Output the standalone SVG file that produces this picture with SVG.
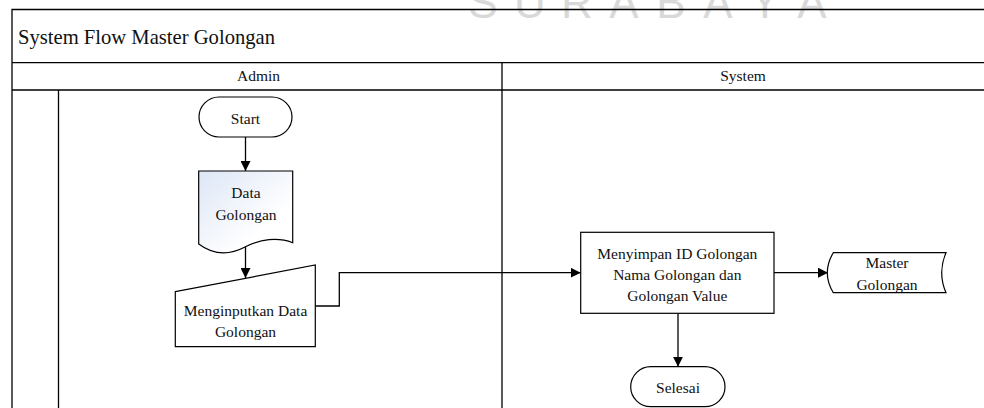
<svg xmlns="http://www.w3.org/2000/svg" width="984" height="408" viewBox="0 0 984 408">
  <style>
    .frame { fill: none; stroke: #000; stroke-width: 1.3; }
    .shape { fill: #fff; stroke: #000; stroke-width: 1.2; }
    .edge { fill: none; stroke: #000; stroke-width: 1.3; }
    .label { font-family: "Liberation Serif", "Times New Roman", serif; font-size: 15.5px; fill: #111; text-anchor: middle; }
    .title { font-family: "Liberation Serif", "Times New Roman", serif; font-size: 21px; fill: #111; }
    .mark { font-family: "Liberation Sans", Arial, sans-serif; font-size: 44px; fill: #d9d9d9; text-anchor: middle; font-weight: 300; }
  </style>
  <defs>
    <marker id="arrow" viewBox="0 0 10 10" refX="10" refY="5" markerWidth="10" markerHeight="10" markerUnits="userSpaceOnUse" orient="auto">
      <path d="M0,0 L10,5 L0,10 Z" fill="#000"/>
    </marker>
    <linearGradient id="docFill" x1="0" y1="0" x2="1" y2="1">
      <stop offset="0" stop-color="#dde6f6"/>
      <stop offset="0.7" stop-color="#ffffff"/>
    </linearGradient>
  </defs>

  <rect width="984" height="408" fill="#fff"/>

  <!-- background watermark -->
  <text class="mark" y="18"><tspan x="483">S</tspan><tspan x="530">U</tspan><tspan x="577">R</tspan><tspan x="624">A</tspan><tspan x="671">B</tspan><tspan x="718">A</tspan><tspan x="765">Y</tspan><tspan x="812">A</tspan></text>

  <!-- swimlane frame -->
  <g id="lanes">
    <path class="frame" d="M12,408 V9.5 H990 M12,62.7 H990 M12,90 H990 M502,62.7 V408 M58.5,90 V408"/>
    <text class="title" x="18" y="44" textLength="257" lengthAdjust="spacingAndGlyphs">System Flow Master Golongan</text>
    <text class="label" x="258.5" y="81">Admin</text>
    <text class="label" x="743" y="81">System</text>
  </g>

  <!-- connectors -->
  <g id="connectors">
    <path class="edge" d="M245.5,137 V171" marker-end="url(#arrow)"/>
    <path class="edge" d="M245.5,247 V278" marker-end="url(#arrow)"/>
    <path class="edge" d="M315.3,306 H339.3 V272.7 H580.7" marker-end="url(#arrow)"/>
    <path class="edge" d="M774,272.7 H828" marker-end="url(#arrow)"/>
    <path class="edge" d="M678,313.3 V366.7" marker-end="url(#arrow)"/>
  </g>

  <g id="start">
    <rect class="shape" x="199" y="97" width="93" height="40" rx="20" ry="20"/>
    <text class="label" x="245.5" y="123.5">Start</text>
  </g>

  <g id="data-golongan">
    <path class="shape" style="fill:url(#docFill)" d="M198.7,171 H292.7 V242.7 C278,237 260,239 245,247 C228,256 212,254 198.7,244 Z"/>
    <text class="label" x="246" y="198">Data</text>
    <text class="label" x="246" y="219.5">Golongan</text>
  </g>

  <g id="input-golongan">
    <path class="shape" d="M175.3,291.7 L315.3,265 V346.7 H175.3 Z"/>
    <text class="label" x="245.5" y="316">Menginputkan Data</text>
    <text class="label" x="245.5" y="337">Golongan</text>
  </g>

  <g id="simpan-golongan">
    <rect class="shape" x="580.7" y="232.3" width="193.3" height="81"/>
    <text class="label" x="677.3" y="259">Menyimpan ID Golongan</text>
    <text class="label" x="677.3" y="280">Nama Golongan dan</text>
    <text class="label" x="677.3" y="301">Golongan Value</text>
  </g>

  <g id="master-golongan">
    <path class="shape" d="M833.3,252.7 H946 Q937.4,272.7 946,292.7 H833.3 Q821.3,272.7 833.3,252.7 Z"/>
    <text class="label" x="887" y="268">Master</text>
    <text class="label" x="887" y="290">Golongan</text>
  </g>

  <g id="selesai">
    <rect class="shape" x="630.7" y="366.7" width="94.3" height="40" rx="20" ry="20"/>
    <text class="label" x="678" y="393">Selesai</text>
  </g>
</svg>
